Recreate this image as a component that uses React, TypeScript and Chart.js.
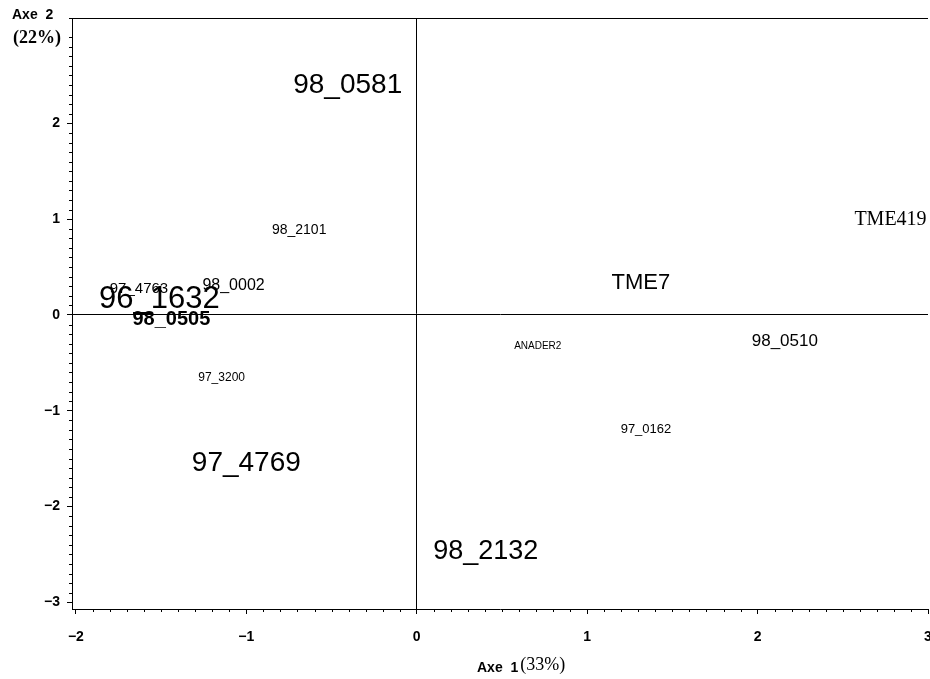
import React, { useEffect, useRef } from 'react';
import { Chart, registerables } from 'chart.js';

Chart.register(...registerables);

// ---- data ----
const cultivars = ['98_0581', '98_2101', '98_0002', '97_4763', '96_1632', '98_0505', '97_3200', '97_4769', '98_2132', 'TME7', 'TME419', 'ANADER2', '98_0510', '97_0162'];
const axe1 = [-0.405, -0.69, -1.075, -1.63, -1.51, -1.44, -1.145, -1.0, 0.405, 1.315, 2.78, 0.71, 2.16, 1.345];
const axe2 = [2.4, 0.89, 0.31, 0.27, 0.16, -0.05, -0.65, -1.55, -2.475, 0.33, 0.99, -0.33, -0.28, -1.19];
const xTickValues = [-2, -1, 0, 1, 2, 3];
const yTickValues = [-3, -2, -1, 0, 1, 2];
const xTitle = ['Axe  1', '(33%)'];
const yTitle = ['Axe  2', '(22%)'];

// ---- styles ----
const SANS = '"Liberation Sans", Arial, sans-serif';
const SERIF = '"Liberation Serif", "Times New Roman", serif';
const LABEL_FONT: Record<string, string> = {
  '98_0581': `28px ${SANS}`,
  '98_2101': `14px ${SANS}`,
  '98_0002': `16px ${SANS}`,
  '97_4763': `15px ${SANS}`,
  '96_1632': `31px ${SANS}`,
  '98_0505': `bold 20px ${SANS}`,
  '97_3200': `12px ${SANS}`,
  '97_4769': `28px ${SANS}`,
  '98_2132': `27px ${SANS}`,
  'TME7': `22px ${SANS}`,
  'TME419': `20px ${SERIF}`,
  'ANADER2': `10px ${SANS}`,
  '98_0510': `17px ${SANS}`,
  '97_0162': `13px ${SANS}`,
};

const W = 930;
const H = 679;

const fmt = (v: number) => (v < 0 ? '\u2212' + Math.abs(v) : String(v));

const decorPlugin = {
  id: 'decor',
  afterDraw(chart: any) {
    const ctx = chart.ctx;
    const { left, right, top, bottom } = chart.chartArea;
    const xs = chart.scales.x;
    const ys = chart.scales.y;
    ctx.save();
    ctx.strokeStyle = '#000';
    ctx.lineWidth = 1;
    // top frame
    ctx.beginPath();
    ctx.moveTo(left, top + 0.5);
    ctx.lineTo(right, top + 0.5);
    ctx.stroke();
    // minor ticks
    ctx.beginPath();
    for (let i = -20; i <= 30; i++) {
      if (i % 10 === 0) continue;
      const px = Math.round(xs.getPixelForValue(i / 10)) + 0.5;
      ctx.moveTo(px, bottom);
      ctx.lineTo(px, bottom + 3);
    }
    for (let i = -30; i <= 31; i++) {
      if (i % 10 === 0) continue;
      const py = Math.round(ys.getPixelForValue(i / 10)) + 0.5;
      ctx.moveTo(left, py);
      ctx.lineTo(left - 3, py);
    }
    ctx.stroke();

    // point labels
    const meta = chart.getDatasetMeta(0);
    ctx.fillStyle = '#000';
    ctx.textAlign = 'center';
    ctx.textBaseline = 'middle';
    meta.data.forEach((pt: any, i: number) => {
      const name = cultivars[i];
      ctx.font = LABEL_FONT[name] || `14px ${SANS}`;
      ctx.fillText(name, pt.x, pt.y);
    });

    // axis titles
    ctx.textAlign = 'left';
    ctx.font = `bold 14px ${SANS}`;
    ctx.fillText(yTitle[0], 12, 15);
    ctx.font = `bold 18px ${SERIF}`;
    ctx.fillText(yTitle[1], 13, 38);

    ctx.font = `bold 14px ${SANS}`;
    ctx.fillText(xTitle[0], 477, 668);
    const w = ctx.measureText(xTitle[0]).width;
    ctx.font = `18px ${SERIF}`;
    ctx.fillText(xTitle[1], 477 + w + 2, 665);
    ctx.restore();
  },
};

export default function App() {
  const ref = useRef<HTMLCanvasElement | null>(null);
  useEffect(() => {
    document.documentElement.style.overflow = 'hidden';
    document.body.style.overflow = 'hidden';
    if (!ref.current) return;
    const chart = new Chart(ref.current, {
      type: 'scatter',
      data: {
        datasets: [
          {
            data: cultivars.map((_, i) => ({ x: axe1[i], y: axe2[i] })),
            pointRadius: 0,
            pointHoverRadius: 0,
          },
        ],
      },
      options: {
        animation: false,
        responsive: false,
        devicePixelRatio: 1,
        layout: { padding: { left: 0, top: 18, right: 2, bottom: 0 } },
        plugins: { legend: { display: false }, tooltip: { enabled: false } },
        scales: {
          x: {
            type: 'linear',
            min: -2.023,
            max: 3.0,
            afterBuildTicks: (s: any) => {
              s.ticks = xTickValues.map((v) => ({ value: v }));
            },
            afterFit: (s: any) => {
              s.height = 70;
              s.paddingLeft = 0;
              s.paddingRight = 0;
            },
            ticks: {
              callback: (v: any) => fmt(Number(v)),
              color: '#000',
              font: { family: SANS, size: 14, weight: 'bold' },
              padding: 15,
              maxRotation: 0,
              autoSkip: false,
            },
            grid: {
              color: (c: any) => (c.tick && c.tick.value === 0 ? '#000' : 'rgba(0,0,0,0)'),
              tickColor: '#000',
              tickLength: 5,
              lineWidth: 1,
            },
            border: { display: true, color: '#000', width: 1 },
          },
          y: {
            type: 'linear',
            min: -3.07,
            max: 3.1,
            afterBuildTicks: (s: any) => {
              s.ticks = yTickValues.map((v) => ({ value: v }));
            },
            afterFit: (s: any) => {
              s.width = 72;
              s.paddingTop = 0;
              s.paddingBottom = 0;
            },
            ticks: {
              callback: (v: any) => fmt(Number(v)),
              color: '#000',
              font: { family: SANS, size: 14, weight: 'bold' },
              padding: 7,
              autoSkip: false,
            },
            grid: {
              color: (c: any) => (c.tick && c.tick.value === 0 ? '#000' : 'rgba(0,0,0,0)'),
              tickColor: '#000',
              tickLength: 5,
              lineWidth: 1,
            },
            border: { display: true, color: '#000', width: 1 },
          },
        },
      },
      plugins: [decorPlugin],
    });
    return () => chart.destroy();
  }, []);
  return (
    <div style={{ position: 'fixed', left: 0, top: 0, width: W, height: H, background: '#fff' }}>
      <canvas ref={ref} width={W} height={H} style={{ display: 'block', width: W, height: H }} />
    </div>
  );
}
